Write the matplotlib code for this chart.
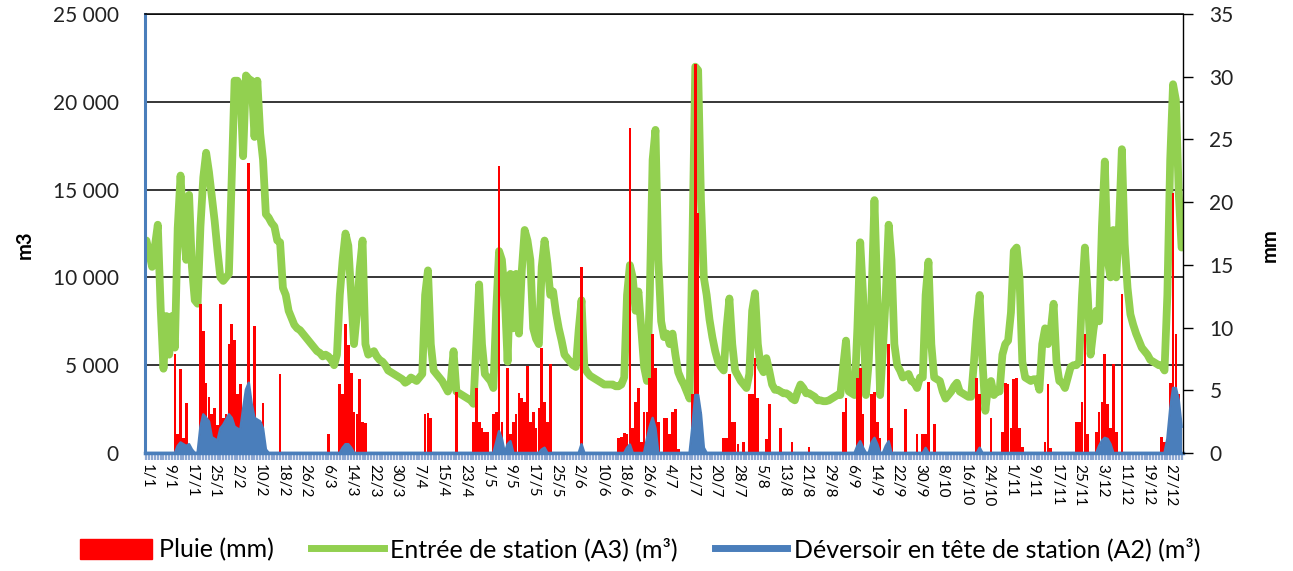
import numpy as np
import matplotlib
matplotlib.use('Agg')
import matplotlib.pyplot as plt
from matplotlib.lines import Line2D
from matplotlib.patches import Patch
from matplotlib.ticker import FuncFormatter

plt.rcParams['font.family'] = ['Lato', 'DejaVu Sans']

# Entrée de station (A3), m3 par jour, mois par mois
jan = [12100, 11400, 10600, 11800, 13000, 8300, 4800, 7800, 5600, 7800, 6000, 12800, 15800, 12800, 11000, 14700,
       10600, 8700, 8500, 12900, 15700, 17100, 16000, 14600, 13200, 11500, 10000, 9800, 10000, 10200, 15700]
feb = [21200, 21200, 20900, 16900, 21500, 21300, 21200, 18000, 21200, 18200, 16700, 13600, 13400, 13100,
       12900, 12100, 12000, 9400, 9000, 8100, 7700, 7300, 7100, 7000, 6800, 6600, 6400, 6200]
mar = [6000, 5800, 5700, 5500, 5600, 5500, 5300, 5000, 5600, 9000, 11000, 12500, 11800, 9000, 6200, 7900,
       10500, 12100, 6200, 5600, 5700, 5800, 5500, 5300, 5200, 5000, 4700, 4600, 4500, 4400, 4300]
apr = [4200, 4000, 4100, 4300, 4200, 4100, 4300, 4500, 9000, 10400, 6200, 4700, 4500, 4300, 4100,
       3800, 3500, 4000, 5800, 3500, 3400, 3300, 3200, 3100, 3000, 2800, 6200, 9600, 6200, 4500]
may = [4300, 4100, 3700, 8100, 11500, 11000, 9000, 5200, 10200, 7100, 10200, 6800, 10400, 12700, 12100, 11000,
       7100, 6500, 6200, 10600, 12100, 10800, 9000, 9200, 8000, 7100, 6400, 5600, 5400, 5200, 5000]
jun = [4900, 7000, 8700, 4900, 4600, 4400, 4300, 4200, 4100, 4000, 3900, 3900, 3900, 3900, 3800,
       3800, 3900, 4300, 9000, 10700, 10000, 8100, 9200, 7100, 4900, 4100, 9000, 16700, 18400, 11000]
jul = [7500, 6600, 6800, 6200, 6800, 5600, 4600, 4200, 3900, 3500, 3100, 12000, 22000, 21800, 14400, 10000,
       9000, 7600, 6600, 5800, 5200, 4900, 4700, 7100, 8800, 6200, 4700, 4400, 4100, 3900, 3700]
aug = [4500, 8100, 9100, 6200, 4900, 4600, 5400, 4700, 3900, 3600, 3600, 3500, 3400, 3400, 3300, 3100,
       3000, 3500, 3900, 3700, 3400, 3400, 3300, 3200, 3000, 3000, 2950, 2950, 3000, 3100, 3200]
sep = [3300, 3300, 4900, 6400, 3500, 3400, 3300, 7100, 12000, 9000, 3300, 5200, 9000, 14400, 9000,
       3300, 6000, 9000, 13000, 11000, 6200, 5000, 4700, 4300, 4400, 4500, 4100, 4000, 3700, 4300]
octo = [4300, 9000, 10900, 6200, 4300, 4200, 4100, 3500, 3100, 3300, 3500, 3800, 4000, 3500, 3400, 3300,
        3200, 3200, 5200, 7500, 9000, 5200, 2400, 3900, 4100, 3300, 3500, 3500, 5600, 6200, 6400]
nov = [8000, 11500, 11700, 10000, 5200, 4300, 4200, 4100, 4200, 4200, 3600, 6200, 7100, 6200, 7000,
       8500, 5200, 4100, 4000, 3700, 4300, 4900, 5000, 5000, 5200, 9000, 11700, 9000, 5600, 7000]
dec = [8100, 7500, 12900, 16600, 11000, 10000, 12700, 10000, 12900, 17300, 11900, 9400, 7900, 7300, 6800, 6400,
       6000, 5800, 5600, 5300, 5200, 5100, 5000, 5000, 4700, 9000, 16700, 21000, 20100, 14800, 11700]
entree = jan + feb + mar + apr + may + jun + jul + aug + sep + octo + nov + dec

# Pluie (mm) : jours de pluie (index du jour dans l'année) et hauteur
rain_day = [10, 11, 12, 13, 14, 15, 19, 20, 21, 22, 23, 24, 25, 26, 27, 28, 29, 30,
            31, 32, 33, 34, 35, 36, 37, 38, 39, 40, 41, 47,
            64, 68, 69, 70, 71, 72, 73, 74, 75, 76, 77,
            98, 99, 100, 109, 115, 116, 117, 118, 119,
            120, 122, 123, 124, 125, 127, 128, 129, 130, 131, 132, 133, 134, 135, 136, 137, 138, 139, 140, 141, 142,
            153, 166, 167, 168, 169, 170, 171, 172, 173, 174, 175, 176, 177, 178, 179, 180,
            182, 183, 184, 185, 186, 187, 192, 193, 194, 195, 203, 204, 205, 206, 207, 208, 210,
            212, 213, 214, 215, 218, 219, 223, 227, 233,
            245, 246, 250, 251, 252, 255, 256, 257, 258, 261, 262, 267, 271,
            273, 274, 275, 277, 292, 293, 297, 301, 302, 303,
            304, 305, 306, 307, 308, 316, 317, 318, 327, 328, 329, 330, 331,
            334, 335, 336, 337, 338, 339, 340, 341, 343, 357, 358, 360, 361, 362, 363]
rain_mm = [7.9, 1.5, 6.7, 1.2, 4.0, 0.5, 11.9, 9.7, 5.6, 4.5, 3.1, 3.6, 2.2, 11.9, 2.8, 3.1, 8.7, 10.3,
           9.0, 4.7, 5.5, 2.0, 3.9, 23.1, 3.1, 10.1, 2.5, 2.5, 4.0, 6.3,
           1.5, 5.5, 4.7, 10.3, 8.6, 6.4, 3.3, 3.1, 5.9, 2.5, 2.4,
           3.1, 3.2, 2.8, 4.9, 2.5, 5.2, 2.5, 2.0, 1.7,
           1.7, 3.1, 3.3, 22.9, 2.5, 6.8, 1.5, 2.5, 3.1, 4.8, 4.4, 4.1, 6.9, 2.5, 3.3, 2.0, 3.6, 8.4, 4.1, 2.5, 7.1,
           14.8, 1.2, 1.3, 1.6, 1.5, 25.9, 2.0, 4.1, 5.2, 0.9, 3.3, 3.3, 6.0, 9.5, 6.8, 2.5,
           2.8, 2.8, 1.5, 3.3, 3.5, 0.3, 4.7, 31.0, 19.1, 3.3, 1.2, 1.2, 6.3, 2.5, 2.5, 0.7, 0.9,
           4.7, 4.7, 7.6, 4.4, 1.1, 3.9, 2.0, 0.9, 0.5,
           3.3, 4.4, 6.0, 6.8, 3.1, 4.7, 4.9, 2.5, 1.2, 8.7, 2.0, 3.5, 1.5,
           1.5, 1.5, 5.7, 2.3, 6.0, 4.7, 2.8, 1.7, 5.6, 5.5,
           2.0, 5.9, 6.0, 2.0, 0.5, 0.9, 5.5, 0.4, 2.5, 2.5, 4.1, 9.5, 1.5,
           1.7, 3.3, 4.1, 7.9, 3.9, 2.0, 7.1, 1.7, 12.7, 1.3, 0.9, 5.6, 20.7, 9.5, 4.7]

# Déversoir en tête de station (A2), m3 : jours avec déversement
ovf_day = [11, 12, 13, 14, 15, 16, 19, 20, 21, 22, 23, 24, 25, 26, 27, 28, 29, 30,
           31, 32, 33, 34, 35, 36, 37, 38, 39, 40, 41, 42, 69, 70, 71, 72,
           123, 124, 125, 127, 128, 139, 140, 153, 169, 170, 176, 177, 178, 179,
           192, 193, 194, 195, 196, 250, 251, 252, 255, 256, 257, 260, 261, 274, 293,
           335, 336, 337, 338, 339, 359, 360, 361, 362, 363, 364]
ovf_m3 = [400, 600, 500, 400, 500, 200, 1500, 2200, 2000, 1800, 900, 800, 700, 1400, 1600, 1900, 2200, 2000,
          1500, 1400, 1300, 2500, 3600, 4000, 2800, 2000, 1900, 1800, 1400, 200, 300, 500, 500, 300,
          600, 1240, 800, 500, 670, 200, 300, 500, 300, 480, 800, 1500, 2000, 1400,
          1500, 3300, 3300, 2200, 300, 400, 670, 300, 600, 860, 500, 400, 670, 290, 300,
          400, 700, 860, 800, 500, 800, 2500, 3700, 3700, 3000, 1500]

tick_labels = ['1/1', '9/1', '17/1', '25/1', '2/2', '10/2', '18/2', '26/2', '6/3', '14/3', '22/3', '30/3',
               '7/4', '15/4', '23/4', '1/5', '9/5', '17/5', '25/5', '2/6', '10/6', '18/6', '26/6', '4/7',
               '12/7', '20/7', '28/7', '5/8', '13/8', '21/8', '29/8', '6/9', '14/9', '22/9', '30/9', '8/10',
               '16/10', '24/10', '1/11', '9/11', '17/11', '25/11', '3/12', '11/12', '19/12', '27/12']

n_days = len(entree)
days = np.arange(n_days)
pluie = np.zeros(n_days)
pluie[rain_day] = rain_mm
deversoir = np.zeros(n_days)
deversoir[ovf_day] = ovf_m3

GREEN = '#92d050'
RED = '#ff0000'
BLUE = '#4a7ebb'

fig = plt.figure(figsize=(12.93, 5.71), dpi=100)
ax = fig.add_axes([145 / 1293, 1 - 453 / 571, (1183 - 145) / 1293, (453 - 14) / 571])
ax_mm = ax.twinx()
ax_bl = ax.twinx()

# entrée de station (axe gauche)
ax.plot(days, entree, color=GREEN, lw=5.6, solid_joinstyle='round', solid_capstyle='round')
ax.set_xlim(-0.5, n_days - 0.5)
ax.set_ylim(0, 25000)
ax.set_yticks(np.arange(0, 25001, 5000))
ax.yaxis.set_major_formatter(FuncFormatter(lambda v, p: f"{v:,.0f}".replace(',', ' ')))
ax.tick_params(axis='y', length=0, labelsize=15, pad=19, labelcolor='#222222')
ax.yaxis.grid(True, color='black', lw=1.1)
ax.set_axisbelow(True)

ax.set_xticks(days[::8])
ax.set_xticklabels(tick_labels, rotation=-90, fontsize=11)
ax.set_xticks(days, minor=True)
ax.tick_params(axis='x', which='both', length=5, width=1.6, color='#8ea8d2', pad=3)

ax.spines['left'].set_color(BLUE)
ax.spines['left'].set_linewidth(2.2)
ax.spines['bottom'].set_color(BLUE)
ax.spines['bottom'].set_linewidth(2.5)
ax.spines['top'].set_color('black')
ax.spines['top'].set_linewidth(1.1)
ax.spines['right'].set_visible(False)

# pluie (axe droit)
ax_mm.bar(days, pluie, width=0.95, color=RED, linewidth=0)
ax_mm.set_ylim(0, 35)
ax_mm.set_yticks(np.arange(0, 36, 5))
ax_mm.tick_params(axis='y', length=7, width=1, color='black', labelsize=15, pad=12, labelcolor='#222222')
for s in ['left', 'top', 'bottom']:
    ax_mm.spines[s].set_visible(False)
ax_mm.spines['right'].set_color('black')
ax_mm.spines['right'].set_linewidth(1)

# déversoir (même échelle que l'axe gauche)
ax_bl.fill_between(days, deversoir, color=BLUE, lw=0)
ax_bl.plot(days, deversoir, color=BLUE, lw=1.8)
ax_bl.set_ylim(0, 25000)
ax_bl.set_xlim(-0.5, n_days - 0.5)
ax_bl.axis('off')

fig.text(25 / 1293, 1 - 245 / 571, 'm3', rotation=90, fontsize=14.5, fontweight='bold', ha='center', va='center')
fig.text(1270 / 1293, 1 - 245 / 571, 'mm', rotation=90, fontsize=14.5, fontweight='bold', ha='center', va='center')

handles = [Patch(color=RED),
           Line2D([], [], color=GREEN, lw=5),
           Line2D([], [], color=BLUE, lw=5)]
labels = ['Pluie (mm)', 'Entrée de station (A3) (m³)', 'Déversoir en tête de station (A2) (m³)']
fig.legend(handles, labels, loc='center', bbox_to_anchor=(0.495, 0.037), ncol=3, frameon=False,
           fontsize=18, handlelength=2.9, handleheight=0.9, handletextpad=0.25, columnspacing=1.5)

fig.savefig('out.png', dpi=100)
